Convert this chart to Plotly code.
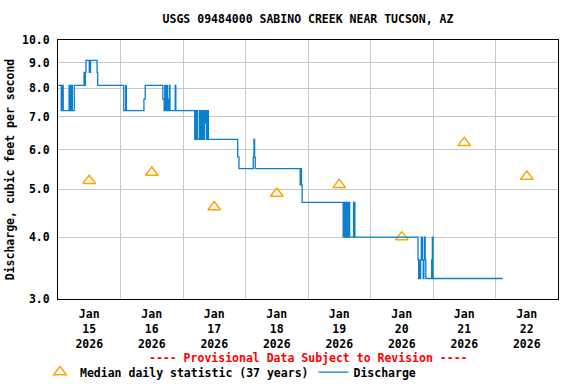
import plotly.graph_objects as go

# ---------------- data ----------------
discharge_time = [
    "2026-01-15 00:00", "2026-01-15 01:15", "2026-01-15 01:45", "2026-01-15 02:00",
    "2026-01-15 04:15", "2026-01-15 04:45", "2026-01-15 05:15", "2026-01-15 05:30",
    "2026-01-15 06:15", "2026-01-15 10:00", "2026-01-15 10:15", "2026-01-15 10:30",
    "2026-01-15 10:45", "2026-01-15 12:00", "2026-01-15 12:30", "2026-01-15 15:00",
    "2026-01-15 15:15", "2026-01-16 01:15", "2026-01-16 02:00", "2026-01-16 02:15",
    "2026-01-16 09:00", "2026-01-16 09:30", "2026-01-16 16:15", "2026-01-16 16:45",
    "2026-01-16 17:00", "2026-01-16 17:30", "2026-01-16 17:45", "2026-01-16 18:00",
    "2026-01-16 18:15", "2026-01-16 18:30", "2026-01-16 18:45", "2026-01-16 19:00",
    "2026-01-16 21:00", "2026-01-16 21:15", "2026-01-17 04:30", "2026-01-17 05:00",
    "2026-01-17 05:30", "2026-01-17 06:15", "2026-01-17 06:30", "2026-01-17 06:45",
    "2026-01-17 07:00", "2026-01-17 07:15", "2026-01-17 07:30", "2026-01-17 07:45",
    "2026-01-17 08:00", "2026-01-17 08:15", "2026-01-17 08:30", "2026-01-17 09:00",
    "2026-01-17 09:30", "2026-01-17 09:45", "2026-01-17 21:00", "2026-01-17 21:30",
    "2026-01-18 03:00", "2026-01-18 03:15", "2026-01-18 03:30", "2026-01-18 03:45",
    "2026-01-18 21:00", "2026-01-18 21:15", "2026-01-18 21:30", "2026-01-18 21:45",
    "2026-01-19 13:30", "2026-01-19 14:00", "2026-01-19 14:30", "2026-01-19 14:45",
    "2026-01-19 15:00", "2026-01-19 15:15", "2026-01-19 15:30", "2026-01-19 15:45",
    "2026-01-19 16:00", "2026-01-19 17:30", "2026-01-19 18:00", "2026-01-20 18:15",
    "2026-01-20 18:30", "2026-01-20 18:45", "2026-01-20 19:00", "2026-01-20 19:15",
    "2026-01-20 19:30", "2026-01-20 20:00", "2026-01-20 20:15", "2026-01-20 20:30",
    "2026-01-20 20:45", "2026-01-20 21:00", "2026-01-20 21:15", "2026-01-20 23:30",
    "2026-01-20 23:45", "2026-01-21 00:00", "2026-01-22 02:45",
]
discharge_cfs = [
    8.1, 7.2, 8.1, 7.2,
    8.1, 7.2, 8.1, 7.2,
    8.1, 8.6, 8.1, 8.6,
    9.1, 8.6, 9.1, 8.6,
    8.1, 7.2, 8.1, 7.2,
    7.6, 8.1, 7.6, 7.2,
    8.1, 7.2, 8.1, 7.2,
    7.6, 7.2, 8.1, 7.2,
    8.1, 7.2, 6.3, 7.2,
    6.3, 7.2, 6.3, 6.8,
    7.2, 6.3, 6.8, 7.2,
    6.3, 6.8, 7.2, 6.3,
    7.2, 6.3, 5.8, 5.5,
    5.8, 6.3, 5.8, 5.5,
    5.1, 5.5, 5.1, 4.7,
    4.0, 4.7, 4.0, 4.3,
    4.7, 4.0, 4.3, 4.7,
    4.0, 4.7, 4.0, 3.6,
    3.3, 3.6, 3.3, 3.6,
    4.0, 3.6, 3.3, 3.6,
    4.0, 3.6, 3.3, 3.6,
    4.0, 3.3, 3.3,
]

median_time = [
    "2026-01-15 12:00", "2026-01-16 12:00", "2026-01-17 12:00", "2026-01-18 12:00",
    "2026-01-19 12:00", "2026-01-20 12:00", "2026-01-21 12:00", "2026-01-22 12:00",
]
median_cfs = [5.2, 5.4, 4.6, 4.9, 5.1, 4.0, 6.2, 5.3]

x_tick_vals = median_time
x_tick_text = ["Jan<br>15<br>2026", "Jan<br>16<br>2026", "Jan<br>17<br>2026",
               "Jan<br>18<br>2026", "Jan<br>19<br>2026", "Jan<br>20<br>2026",
               "Jan<br>21<br>2026", "Jan<br>22<br>2026"]
x_grid_vals = ["2026-01-16", "2026-01-17", "2026-01-18", "2026-01-19",
               "2026-01-20", "2026-01-21", "2026-01-22"]
y_tick_vals = [3.0, 4.0, 5.0, 6.0, 7.0, 8.0, 9.0, 10.0]
y_tick_text = ["3.0", "4.0", "5.0", "6.0", "7.0", "8.0", "9.0", "10.0"]

title_text = "USGS 09484000 SABINO CREEK NEAR TUCSON, AZ"
y_title = "Discharge, cubic feet per second"
note_text = "---- Provisional Data Subject to Revision ----"

# ---------------- style ----------------
FONT = "DejaVu Sans Mono"
FS = 11.5
GRID = "#C8C8C8"
BLUE = "#0A7FCC"
ORANGE = "#FFA500"

fig = go.Figure()
fig.add_trace(go.Scatter(
    x=median_time, y=median_cfs, mode="markers",
    name="Median daily statistic (37 years)",
    marker=dict(symbol="triangle-up-open", size=11, color=ORANGE,
                line=dict(width=1.5, color=ORANGE)),
))
fig.add_trace(go.Scatter(
    x=discharge_time, y=discharge_cfs, mode="lines", name="Discharge",
    line=dict(shape="hv", color=BLUE, width=1.3),
))

fig.update_layout(
    width=576, height=384,
    margin=dict(l=58, r=18, t=40, b=85, autoexpand=False),
    paper_bgcolor="white", plot_bgcolor="white",
    font=dict(family=FONT, size=FS, color="black", weight="bold"),
    title=dict(text=title_text, x=0.5, xref="paper", y=1 - 19 / 384,
               yanchor="middle", xanchor="center",
               font=dict(family=FONT, size=FS, weight="bold")),
    showlegend=True,
    legend=dict(orientation="h", x=-0.036, xanchor="left", y=-0.282,
                yanchor="middle", font=dict(family=FONT, size=FS, weight="bold"),
                itemwidth=30, bgcolor="rgba(0,0,0,0)", tracegroupgap=0,
                traceorder="normal"),
    annotations=[dict(text=note_text, xref="paper", yref="paper", x=0.5,
                      y=-0.228, xanchor="center", yanchor="middle",
                      showarrow=False,
                      font=dict(family=FONT, size=FS, color="#FF0000", weight="bold"))],
)

fig.update_xaxes(
    type="date", automargin=False,
    range=["2026-01-15 00:00", "2026-01-23 00:00"],
    tickmode="array", tickvals=x_tick_vals, ticktext=x_tick_text,
    showgrid=False, ticks="", ticklabelstandoff=4,
    minor=dict(tickmode="array", tickvals=x_grid_vals, showgrid=True,
               gridcolor=GRID, gridwidth=1, ticks=""),
    showline=True, linecolor="black", linewidth=1, mirror=True,
    zeroline=False,
)
fig.update_yaxes(
    type="log", automargin=False,
    range=[0.47712125472, 1.0],
    tickmode="array", tickvals=y_tick_vals, ticktext=y_tick_text,
    showgrid=True, gridcolor=GRID, gridwidth=1, ticks="",
    ticklabelstandoff=5,
    showline=True, linecolor="black", linewidth=1, mirror=True,
    zeroline=False,
    title=dict(text=y_title, standoff=4, font=dict(family=FONT, size=FS, weight="bold")),
)

fig.write_html("out.html", config={"displayModeBar": False},
               post_script="document.body.style.margin='0';document.body.style.padding='0';")
